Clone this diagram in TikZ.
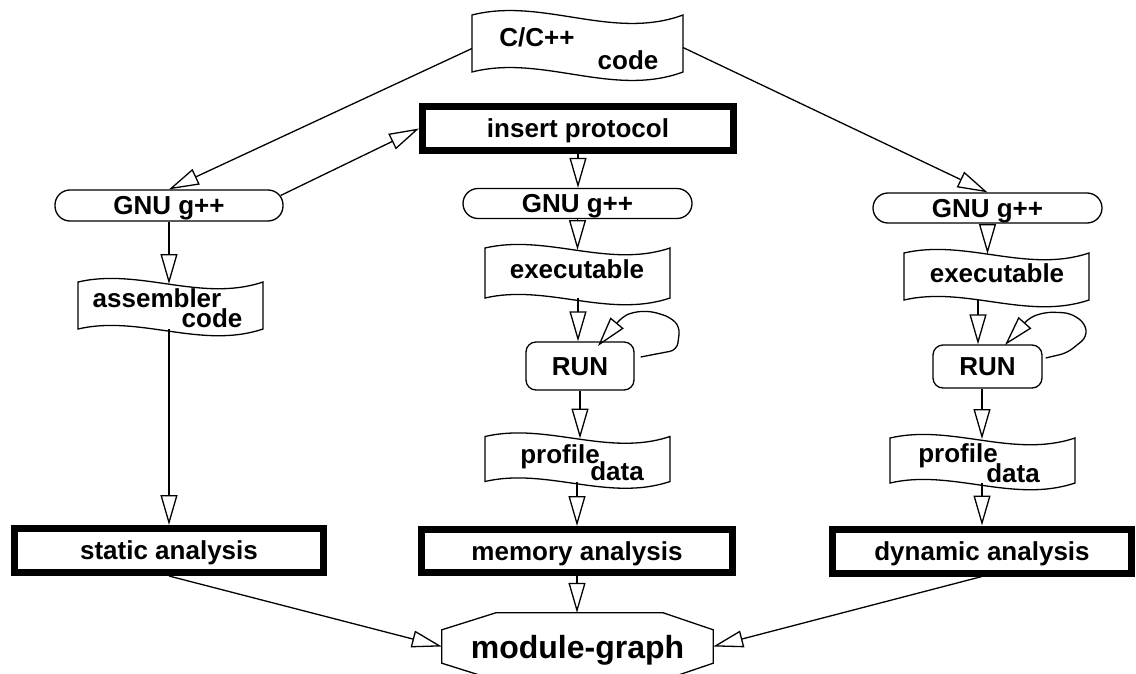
\documentclass[tikz,border=0pt]{standalone}
\usepackage{fontspec}
\setmainfont{Liberation Sans}
\usetikzlibrary{arrows.meta,calc}

\newcommand\tapedraw[2]{%
  \draw[thinline] let \p1=(#1.north west), \p2=(#1.south east), \n1={\x2-\x1} in
    (\x1,\y1) .. controls (\x1+\n1/3, \y1+18pt*#2) and (\x1+2*\n1/3, \y1-26pt*#2) .. (\x2,\y1)
    -- (\x2,\y2) .. controls (\x1+2*\n1/3, \y2-26pt*#2) and (\x1+\n1/3, \y2+18pt*#2) .. (\x1,\y2)
    -- cycle;}

\begin{document}
\begin{tikzpicture}[x=1pt,y=-1pt,
  thinline/.style={line width=1.3pt},
  lbl/.style={font=\fontsize{26}{28}\selectfont\bfseries, inner sep=0pt},
  tapebox/.style={inner sep=0pt, outer sep=0pt},
  thickbox/.style={draw, line width=7pt, inner sep=0pt, text height=18.7pt, text depth=0pt,
    font=\fontsize{26}{28}\selectfont\bfseries},
  gnubox/.style={draw, line width=1.3pt, rounded corners=15pt, minimum width=229pt, minimum height=30pt,
    inner sep=0pt, text height=18.7pt, text depth=0pt, font=\fontsize{26}{28}\selectfont\bfseries},
  runbox/.style={draw, line width=1.3pt, rounded corners=10pt, minimum width=108pt,
    inner sep=0pt, text height=18.7pt, text depth=0pt, font=\fontsize{26}{28}\selectfont\bfseries},
  arr/.style={draw, line width=1.3pt, -{Triangle[open, length=30pt, width=17pt]}}
]
\useasboundingbox (0,0) rectangle (1136,674);
\clip (0,0) rectangle (1136,674);

% C/C++ code
\node[tapebox, minimum width=211pt, minimum height=57pt] (code) at (577.5,43.5) {};
\tapedraw{code}{1}
\node[lbl, anchor=base] (codeA) at (537,47) {C/C++};
\node[lbl, anchor=base] (codeB) at (628,70) {code};

% insert protocol
\node[thickbox, minimum width=311pt, minimum height=44pt] (ins) at (578,128.5) {insert protocol};

% GNU g++ boxes
\node[gnubox, minimum width=228pt, minimum height=31pt] (gnu1) at (169,205.5) {GNU g++};
\node[gnubox] (gnu2) at (577.5,203.5) {GNU g++};
\node[gnubox] (gnu3) at (987.5,208) {GNU g++};

% assembler code
\node[tapebox, minimum width=185pt, minimum height=47pt] (asm) at (170.5,305.5) {};
\tapedraw{asm}{0.8}
\node[lbl, anchor=base] (asmA) at (157,307) {assembler};
\node[lbl, anchor=base] (asmB) at (212,327) {code};

% executables
\node[tapebox, minimum width=185pt, minimum height=50pt] (exec2) at (577.5,273) {};
\tapedraw{exec2}{0.8}
\node[lbl, anchor=base] (exec2A) at (577,278) {executable};
\node[tapebox, minimum width=185pt, minimum height=47pt] (exec3) at (996.5,276.5) {};
\tapedraw{exec3}{0.8}
\node[lbl, anchor=base] (exec3A) at (997,282) {executable};

% RUN
\node[runbox, minimum height=48pt] (run2) at (580,366) {RUN};
\node[runbox, minimum width=109pt, minimum height=43pt] (run3) at (987.5,366.5) {RUN};

% profile data
\node[tapebox, minimum width=185pt, minimum height=45pt] (prof2) at (577.5,459) {};
\tapedraw{prof2}{0.8}
\node[lbl, anchor=base] (prof2A) at (560,463) {profile};
\node[lbl, anchor=base] (prof2B) at (617,480) {data};
\node[tapebox, minimum width=185pt, minimum height=45pt] (prof3) at (982.5,460.5) {};
\tapedraw{prof3}{0.8}
\node[lbl, anchor=base] (prof3A) at (958,462) {profile};
\node[lbl, anchor=base] (prof3B) at (1013,482) {data};

% analyses
\node[thickbox, minimum width=309pt, minimum height=44pt] (static) at (169,550.5) {static analysis};
\node[thickbox, minimum width=311pt, minimum height=43pt] (memory) at (577,551) {memory analysis};
\node[thickbox, minimum width=299pt, minimum height=44pt] (dynamic) at (982,551) {dynamic analysis};

% module-graph
\node[inner sep=0pt, minimum width=271pt, minimum height=67pt, text height=23pt, text depth=0pt,
  font=\fontsize{32}{34}\selectfont\bfseries] (mg) at (577.5,646.5) {module-graph};
\draw[thinline] ($(mg.north west)+(54,0)$) -- ($(mg.north east)+(-50,0)$) -- ($(mg.north east)+(0,17)$)
  -- ($(mg.south east)+(0,-17)$) -- ($(mg.south east)+(-50,0)$) -- ($(mg.south west)+(54,0)$)
  -- ($(mg.south west)+(0,-17)$) -- ($(mg.north west)+(0,17)$) -- cycle;

% connectors
\draw[arr] ([yshift=-5pt]code.west) -- (gnu1.north);
\draw[arr] ([yshift=-4pt]code.east) -- (gnu3.north);
\draw[arr] ($(gnu1.east)+(-3,-10)$) -- (ins.west);
\draw[arr] (ins.south) -- (ins.south |- gnu2.north);
\draw[arr] (gnu2.south) -- ($(gnu2.south |- exec2.north)+(0,2)$);
\coordinate (r2t) at ($(run2.north)+(-2,0)$);
\draw[arr] (r2t |- exec2.south) -- (r2t);
\draw[arr] (run2.south) -- ($(run2.south |- prof2.north)+(0,2)$);
\draw[arr] (memory.north |- prof2.south) -- (memory.north);
\draw[arr] (memory.south) -- (memory.south |- mg.north);

\draw[arr] (gnu1.south) -- ($(gnu1.south |- asm.north)+(0,2)$);
\draw[arr] (static.north |- asm.south) -- (static.north);

\draw[arr] (gnu3.south) -- ($(gnu3.south |- exec3.north)+(0,1)$);
\coordinate (r3t) at ($(run3.north)+(-9.5,0)$);
\draw[arr] (r3t |- exec3.south) -- (r3t);
\coordinate (r3b) at ($(run3.south)+(-5.5,0)$);
\draw[arr] (r3b) -- ($(r3b |- prof3.north)+(0,1)$);
\draw[arr] (dynamic.north |- prof3.south) -- (dynamic.north);

\draw[arr] (static.south) -- (mg.west);
\draw[arr] (dynamic.south) -- (mg.east);

% self loops
\draw[arr, rounded corners=7pt] ($(run2.east)+(6,-9)$) -- ($(run2)+(97,-16)$) -- ($(run2)+(100,-39)$)
  -- ($(run2)+(90,-49)$) -- ($(run2)+(70,-55)$) -- ($(run2)+(53,-54)$) -- ($(run2)+(42,-49)$)
  -- ($(run2)+(18,-20)$);
\draw[arr, rounded corners=7pt] ($(run3.east)+(3,-8.5)$) -- ($(run3)+(79.5,-13.5)$) -- ($(run3)+(99.5,-29.5)$)
  -- ($(run3)+(97.5,-43.5)$) -- ($(run3)+(82.5,-53.5)$) -- ($(run3)+(59.5,-54.5)$) -- ($(run3)+(42.5,-49.5)$)
  -- ($(run3)+(17.5,-21.5)$);
\end{tikzpicture}
\end{document}
